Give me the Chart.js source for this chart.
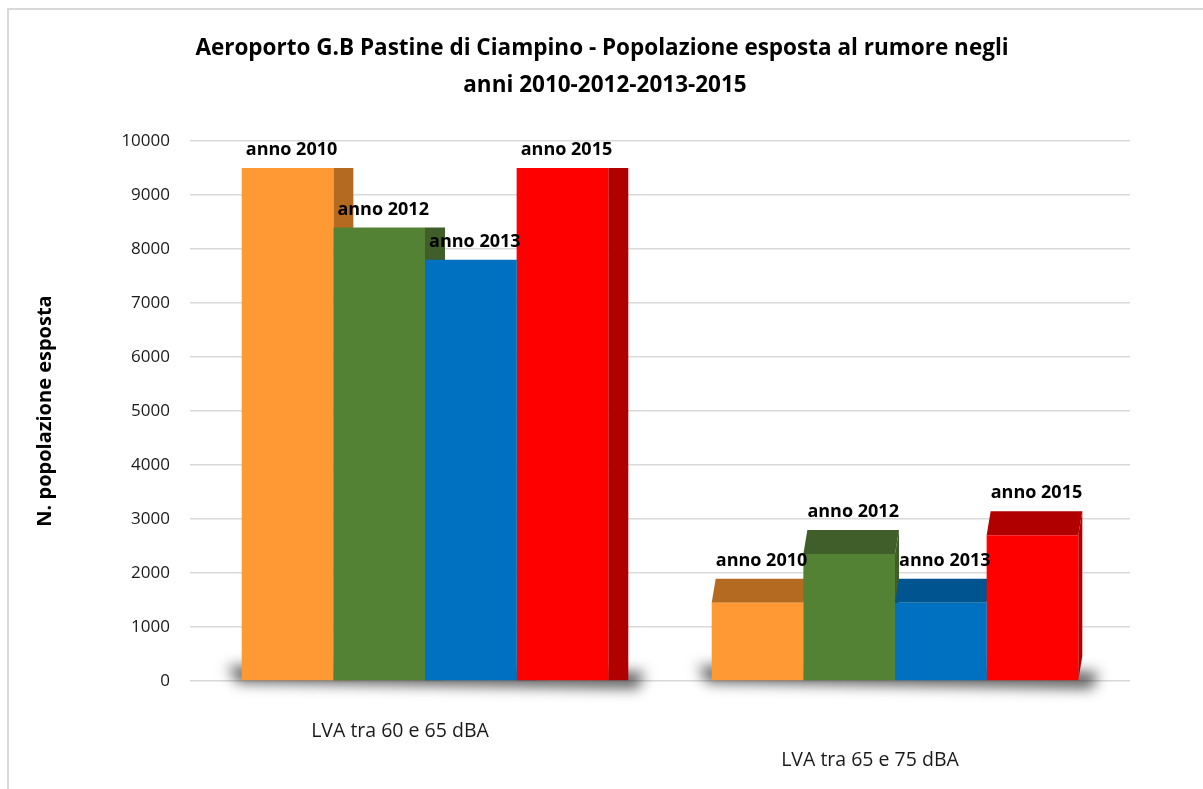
<!DOCTYPE html>
<html><head><meta charset="utf-8">
<script src="https://cdn.jsdelivr.net/npm/chart.js@4.4.1/dist/chart.umd.min.js"></script>
<style>
html,body{margin:0;padding:0;background:#fff;overflow:hidden;width:1203px;height:789px;}
#frame{position:absolute;left:7px;top:8px;width:1300px;height:900px;border-top:2px solid #d9d9d9;border-left:2px solid #d9d9d9;}
#c{position:absolute;left:0;top:0;}
</style></head><body>
<div id="frame"></div>
<canvas id="c" width="1203" height="789"></canvas>
<script>
// ---- data ----
const categories = ['LVA tra 60 e 65 dBA', 'LVA tra 65 e 75 dBA'];
const seriesNames = ['anno 2010', 'anno 2012', 'anno 2013', 'anno 2015'];
const anno2010 = [9500, 1450];
const anno2012 = [8400, 2350];
const anno2013 = [7800, 1450];
const anno2015 = [9500, 2700];
const titleLines = ['Aeroporto G.B Pastine di Ciampino - Popolazione esposta al rumore negli', 'anni 2010-2012-2013-2015'];
const yAxisTitle = 'N. popolazione esposta';

// ---- styles ----
const frontColors = ['#FF9933', '#548235', '#0070C0', '#FF0000'];
const depthColors = ['#B56A22', '#3F5E29', '#00548F', '#B00000'];
const depthByCategory = [{dx: 20, dy: 0}, {dx: 4, dy: 24}];

const seriesValues = [anno2010, anno2012, anno2013, anno2015];

const titlePlugin = {
  id: 'customTitle',
  afterDraw(chart) {
    const ctx = chart.ctx;
    ctx.save();
    ctx.font = 'bold 22.5px "Open Sans", sans-serif';
    ctx.fillStyle = '#000';
    ctx.textAlign = 'center';
    ctx.textBaseline = 'middle';
    ctx.fillText(titleLines[0], 602, 49);
    ctx.fillText(titleLines[1], 605, 86);
    ctx.restore();
  }
};

const bars3d = {
  id: 'bars3d',
  beforeDatasetsDraw(chart) {
    const ctx = chart.ctx;
    const metas = chart.data.datasets.map((d, i) => chart.getDatasetMeta(i));
    categories.forEach((c, ci) => {
      const first = metas[0].data[ci].getProps(['x','y','base','width'], true);
      const last = metas[metas.length-1].data[ci].getProps(['x','y','base','width'], true);
      const L = first.x - first.width/2, R = last.x + last.width/2 + depthByCategory[ci].dx;
      const b = first.base;
      ctx.save();
      ctx.filter = 'blur(7px)';
      ctx.fillStyle = 'rgba(45,45,45,0.8)';
      ctx.beginPath();
      ctx.moveTo(L - 14, b - 14);
      ctx.lineTo(R + 16, b - 8);
      ctx.lineTo(R + 10, b + 8);
      ctx.lineTo(L - 4, b + 2);
      ctx.closePath();
      ctx.fill();
      ctx.restore();
    });
    metas.forEach((meta, di) => {
      meta.data.forEach((bar, ci) => {
        const p = bar.getProps(['x','y','base','width'], true);
        const {dx, dy} = depthByCategory[ci];
        const L = p.x - p.width/2, R = p.x + p.width/2;
        ctx.save();
        ctx.fillStyle = depthColors[di];
        ctx.beginPath();
        ctx.moveTo(R, p.y);
        ctx.lineTo(R + dx, p.y - dy);
        ctx.lineTo(R + dx, p.base - dy);
        ctx.lineTo(R, p.base);
        ctx.closePath();
        ctx.fill();
        ctx.beginPath();
        ctx.moveTo(L, p.y);
        ctx.lineTo(L + dx, p.y - dy);
        ctx.lineTo(R + dx, p.y - dy);
        ctx.lineTo(R, p.y);
        ctx.closePath();
        ctx.fill();
        ctx.restore();
      });
    });
  },
  afterDatasetsDraw(chart) {
    const ctx = chart.ctx;
    ctx.save();
    ctx.font = 'bold 18px "Open Sans", sans-serif';
    ctx.fillStyle = '#000';
    ctx.textAlign = 'center';
    ctx.textBaseline = 'middle';
    chart.data.datasets.forEach((ds, di) => {
      chart.getDatasetMeta(di).data.forEach((bar, ci) => {
        const p = bar.getProps(['x','y'], true);
        const {dy} = depthByCategory[ci];
        ctx.fillText(ds.label, p.x + 4, p.y - dy - 18);
      });
    });
    ctx.restore();
  }
};

new Chart(document.getElementById('c'), {
  type: 'bar',
  data: {
    labels: categories,
    datasets: seriesNames.map((n, i) => ({
      label: n,
      data: seriesValues[i],
      backgroundColor: frontColors[i],
      borderWidth: 0,
      categoryPercentage: 0.78,
      barPercentage: 1.0
    }))
  },
  options: {
    responsive: false,
    animation: false,
    layout: {padding: {left: 0, right: 73, top: 141, bottom: 0}},
    plugins: {
      legend: {display: false},
      tooltip: {enabled: false},
      title: {display: false}
    },
    scales: {
      x: {
        grid: {display: false, drawTicks: false},
        border: {display: false},
        ticks: {
          color: '#1a1a1a',
          font: {family: '"Open Sans", sans-serif', size: 19.5, lineHeight: 1.5},
          padding: 36,
          labelOffset: -25,
          maxRotation: 0,
          callback: function(v, i) { const l = this.getLabelForValue(v); return i === 1 ? ['', l] : l; }
        },
        afterFit(scale) { scale.height = 108; }
      },
      y: {
        min: 0, max: 10000,
        grid: {color: '#d9d9d9', lineWidth: 1.5, drawTicks: false},
        border: {display: false},
        ticks: {
          stepSize: 1000,
          color: '#1a1a1a',
          font: {family: '"Open Sans", sans-serif', size: 17},
          padding: 20,
          callback: v => String(v)
        },
        title: {
          display: true,
          text: yAxisTitle,
          color: '#000',
          font: {family: '"Open Sans", sans-serif', size: 20, weight: 'bold'},
          padding: {top: 33, bottom: 0}
        },
        afterFit(scale) { scale.width = 190; }
      }
    }
  },
  plugins: [bars3d, titlePlugin]
});
</script>
</body></html>
